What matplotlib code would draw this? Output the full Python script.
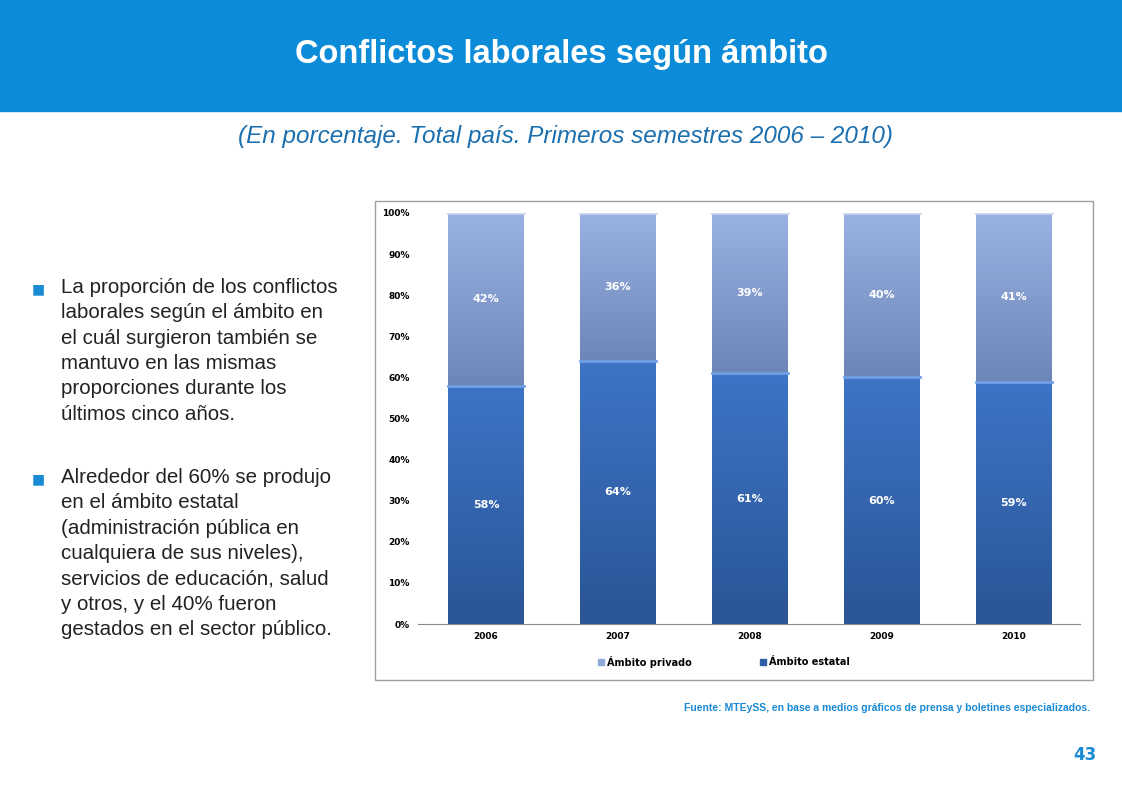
import matplotlib
matplotlib.use("Agg")
import matplotlib.pyplot as plt
import numpy as np
from matplotlib.patches import Rectangle

years = ["2006", "2007", "2008", "2009", "2010"]
estatal = [58, 64, 61, 60, 59]
privado = [42, 36, 39, 40, 41]
yticks = [0, 10, 20, 30, 40, 50, 60, 70, 80, 90, 100]

W, H = 1122, 793
fig = plt.figure(figsize=(W/100, H/100), dpi=100)
fig.patch.set_facecolor("white")

def fx(x): return x / W
def fy(y): return 1 - y / H

# header
fig.patches.append(Rectangle((0, fy(111)), 1, 111/H, transform=fig.transFigure, color="#0b8bd8", zorder=0))
fig.text(0.5, fy(55), "Conflictos laborales según ámbito", color="white", fontsize=23.5, fontweight="bold",
         ha="center", va="center", family="Liberation Sans")
fig.text(fx(565), fy(136), "(En porcentaje. Total país. Primeros semestres 2006 – 2010)", color="#1b6fae",
         fontsize=17.5, style="italic", ha="center", va="center", family="Liberation Sans")

# bullets
b1 = "La proporción de los conflictos\nlaborales según el ámbito en\nel cuál surgieron también se\nmantuvo en las mismas\nproporciones durante los\núltimos cinco años."
b2 = "Alrededor del 60% se produjo\nen el ámbito estatal\n(administración pública en\ncualquiera de sus niveles),\nservicios de educación, salud\ny otros, y el 40% fueron\ngestados en el sector público."
for y0, t in [(289, b1), (479, b2)]:
    fig.text(fx(32), fy(y0), "■", color="#1a8ad4", fontsize=10, va="center", family="DejaVu Sans")
    fig.text(fx(61), fy(y0 - 11), t, color="#222222", fontsize=14.8, va="top", linespacing=1.42,
             family="Liberation Sans")

# chart box
fig.patches.append(Rectangle((fx(375), fy(680)), (1093-375)/W, (680-201)/H, transform=fig.transFigure,
                             facecolor="white", edgecolor="#a0a0a0", lw=1, zorder=1))

ax = fig.add_axes([fx(418), fy(624), (1080-418)/W, (624-213)/H], zorder=2)
ax.set_facecolor("none")
x = np.arange(len(years))
w = 0.575

def grad_bar(xc, b, h, c1, c2):
    g = np.linspace(0, 1, 100).reshape(-1, 1)
    c1 = np.array(matplotlib.colors.to_rgb(c1)); c2 = np.array(matplotlib.colors.to_rgb(c2))
    img = c1 * (1 - g[..., None]) + c2 * g[..., None]
    ax.imshow(img, extent=(xc - w/2, xc + w/2, b, b + h), origin="lower", aspect="auto", zorder=2)

for i in range(len(years)):
    grad_bar(x[i], 0, estatal[i], "#2a5596", "#3e74c6")
    grad_bar(x[i], estatal[i], privado[i], "#6c86b8", "#9ab2e2")
    ax.plot([x[i]-w/2, x[i]+w/2], [estatal[i], estatal[i]], color="#6fa0e6", lw=2, zorder=3)
    ax.plot([x[i]-w/2, x[i]+w/2], [100, 100], color="#c8d6f0", lw=2, zorder=3)
    ax.text(x[i], estatal[i]/2, f"{estatal[i]}%", color="white", fontsize=8, fontweight="bold",
            ha="center", va="center", zorder=4)
    ax.text(x[i], estatal[i] + privado[i]/2, f"{privado[i]}%", color="white", fontsize=8,
            fontweight="bold", ha="center", va="center", zorder=4)

ax.set_xlim(-0.515, 4.5)
ax.set_ylim(0, 100)
ax.set_yticks(yticks)
ax.set_yticklabels([f"{v}%" for v in yticks], fontsize=6.5, fontweight="bold")
ax.set_xticks(x)
ax.set_xticklabels(years, fontsize=6.5, fontweight="bold")
for s in ["top", "right", "left"]:
    ax.spines[s].set_visible(False)
ax.spines["bottom"].set_color("#888888")
ax.tick_params(length=0, pad=6)

# legend
for lx, lab, col in [(598, "Ámbito privado", "#8ea8d8"), (760, "Ámbito estatal", "#2f5ea8")]:
    fig.patches.append(Rectangle((fx(lx), fy(665)), 6/W, 6/H, transform=fig.transFigure, color=col, zorder=3))
    fig.text(fx(lx + 9), fy(662), lab, fontsize=7, fontweight="bold", va="center")

fig.text(fx(1090), fy(708), "Fuente: MTEySS, en base a medios gráficos de prensa y boletines especializados.",
         color="#1a8ad4", fontsize=7.5, fontweight="bold", ha="right", va="center", family="Liberation Sans")
fig.text(fx(1097), fy(755), "43", color="#1a8ad4", fontsize=12, fontweight="bold", ha="right", va="center")

fig.savefig("out.png", dpi=100)
